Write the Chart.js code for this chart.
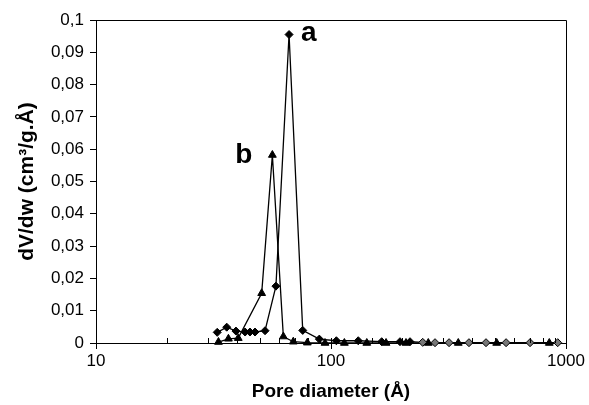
<!DOCTYPE html>
<html><head><meta charset="utf-8">
<script src="https://cdn.jsdelivr.net/npm/chart.js@4"></script>
<style>html,body{margin:0;padding:0;background:#fff;}canvas{display:block;}</style>
</head><body>
<canvas id="c" width="589" height="405"></canvas>
<script>
// Series a (diamonds)
const diameterA = [32.8, 36.0, 39.4, 43.1, 45.2, 47.5, 52.4, 58.3, 66.3, 75.8, 89.2, 105.4, 130.6, 164.3, 196.6, 216.9, 245.6, 277.1, 318, 386.5, 456.7, 556, 703, 922];
const dvdwA     = [0.0033, 0.0049, 0.0037, 0.0034, 0.0034, 0.0034, 0.0038, 0.0176, 0.0955, 0.0039, 0.0012, 0.0007, 0.0007, 0.0004, 0.0004, 0.0004, 0.0002, 0.0001, 0.0001, 0.0001, 0.0001, 0.0001, 0.0001, 0.0001];
// Series b (triangles)
const diameterB = [33.2, 36.6, 40.3, 50.7, 56.3, 62.7, 69.1, 79.3, 94.3, 114, 142, 171.5, 208.5, 259.4, 348, 507, 849];
const dvdwB     = [0.0003, 0.0013, 0.0015, 0.0154, 0.0582, 0.002, 0.0004, 0.0001, 0, 0, 0, 0, 0, 0, 0, 0, 0];
const seriesNames = ['a', 'b'];
const xTickLabels = [10, 100, 1000];
const xRange = [10, 1000];
const yRange = [0, 0.1];
const yStep = 0.01;
const xTitle = 'Pore diameter (Å)';
const yTitle = 'dV/dw (cm³/g.Å)';

const FONT = "'Liberation Sans', Arial, sans-serif";
const greyFromA = 245;
const ptsA = diameterA.map((x, i) => ({x, y: dvdwA[i]}));
const ptsB = diameterB.map((x, i) => ({x, y: dvdwB[i]}));

const framePlugin = {
  id: 'frame',
  afterDraw(chart) {
    const {ctx, chartArea: a, scales} = chart;
    const xs = scales.x;
    ctx.save();
    ctx.strokeStyle = '#000';
    ctx.lineWidth = 1;
    ctx.beginPath();
    ctx.moveTo(a.left, a.top + 0.5); ctx.lineTo(a.right + 0.5, a.top + 0.5);
    ctx.lineTo(a.right + 0.5, a.bottom);
    ctx.stroke();
    xs.ticks.forEach(t => {
      const px = Math.round(xs.getPixelForValue(t.value)) + 0.5;
      const major = Math.abs(Math.log10(t.value) - Math.round(Math.log10(t.value))) < 1e-9;
      ctx.beginPath();
      if (major) { ctx.moveTo(px, a.bottom - 5); ctx.lineTo(px, a.bottom + 6); }
      else { ctx.moveTo(px, a.bottom); ctx.lineTo(px, a.bottom - 5); }
      ctx.stroke();
    });
    ctx.fillStyle = '#000';
    ctx.font = 'bold 28px ' + FONT;
    ctx.textBaseline = 'alphabetic';
    const metaA = chart.getDatasetMeta(0), metaB = chart.getDatasetMeta(1);
    const iA = dvdwA.indexOf(Math.max(...dvdwA));
    const iB = dvdwB.indexOf(Math.max(...dvdwB));
    const pA = metaA.data[iA], pB = metaB.data[iB];
    ctx.textAlign = 'left';
    ctx.fillText(seriesNames[0], pA.x + 12, pA.y + 6);
    ctx.textAlign = 'right';
    ctx.fillText(seriesNames[1], pB.x - 20, pB.y + 8);
    ctx.restore();
  }
};

new Chart(document.getElementById('c'), {
  type: 'scatter',
  data: {
    datasets: [
      {
        label: seriesNames[0], data: ptsA, showLine: true,
        borderColor: '#000', borderWidth: 1.3,
        pointStyle: 'rectRot', pointRadius: 4, pointBorderWidth: 1,
        pointBorderColor: '#000',
        pointBackgroundColor: diameterA.map(x => x >= greyFromA ? '#777' : '#000'),
        clip: false
      },
      {
        label: seriesNames[1], data: ptsB, showLine: true,
        borderColor: '#000', borderWidth: 1.3,
        pointStyle: 'triangle', pointRadius: 4.5, pointBorderWidth: 1,
        pointBorderColor: '#000', pointBackgroundColor: '#000',
        clip: false
      }
    ]
  },
  options: {
    responsive: false,
    animation: false,
    devicePixelRatio: 1,
    layout: {padding: {left: 0, top: 20, right: 23, bottom: 0}},
    plugins: {legend: {display: false}, tooltip: {enabled: false}},
    elements: {line: {tension: 0}},
    scales: {
      x: {
        type: 'logarithmic', min: xRange[0], max: xRange[1],
        afterFit: s => { s.height = 62; s.paddingRight = 0; },
        grid: {display: true, drawOnChartArea: false, drawTicks: false},
        border: {display: true, color: '#000', width: 1},
        ticks: {
          autoSkip: false, maxRotation: 0, padding: 8, color: '#000',
          font: {family: FONT, size: 17},
          callback: v => xTickLabels.includes(v) ? String(v) : ''
        },
        title: {display: true, text: xTitle, color: '#000',
          font: {family: FONT, size: 19, weight: 'bold'}, padding: {top: 0, bottom: 2}}
      },
      y: {
        min: yRange[0], max: yRange[1],
        afterFit: s => { s.width = 96; },
        grid: {display: true, drawOnChartArea: false, drawTicks: true, tickLength: 6, tickColor: '#000'},
        border: {display: true, color: '#000', width: 1},
        ticks: {
          stepSize: yStep, padding: 6, color: '#000',
          font: {family: FONT, size: 17},
          callback: v => v === 0 ? '0' : String(+v.toFixed(2)).replace('.', ',')
        },
        title: {display: true, text: yTitle, color: '#000',
          font: {family: FONT, size: 21, weight: 'bold'}, padding: {top: 15, bottom: 0}}
      }
    }
  },
  plugins: [framePlugin]
});
</script>
</body></html>
